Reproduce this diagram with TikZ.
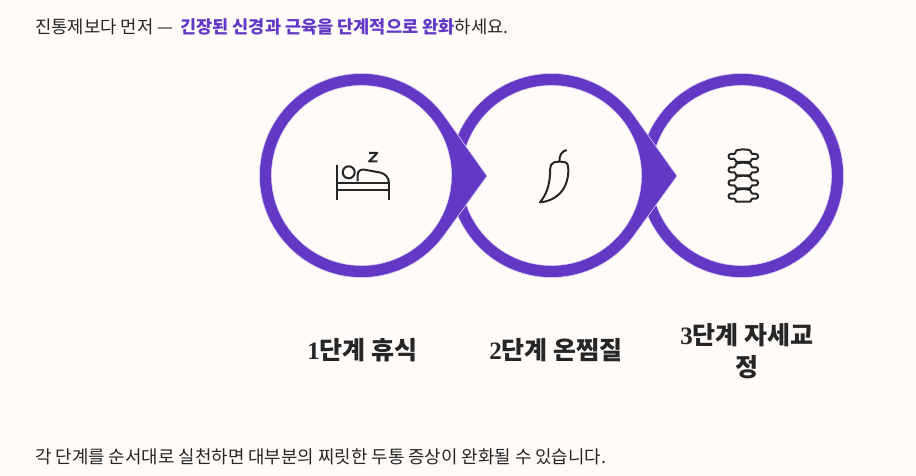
\documentclass[tikz,border=0pt]{standalone}
\usepackage{fontspec}
\setmainfont{Noto Sans CJK KR}
\newfontfamily\digfont{Liberation Serif}
\definecolor{bgc}{HTML}{FFFBF8}
\definecolor{ink}{HTML}{262626}
\definecolor{violet}{HTML}{6238C5}
\definecolor{violetedge}{HTML}{D9CEF2}
\newcommand{\labelnum}[1]{{\digfont\bfseries #1}}
\tikzset{
  x=1pt,y=1pt,
  ring/.style={fill=violet,draw=violetedge,line width=.6pt},
  hole/.style={fill=bgc,draw=violetedge,line width=.6pt},
  icon/.style={draw=ink,line width=2pt,line cap=butt,line join=round},
  bodytext/.style={anchor=west,inner sep=0pt,text=ink,font=\fontsize{17.75}{22}\selectfont},
  steplabel/.style={inner sep=0pt,text=ink,align=center,font=\fontsize{25}{32.5}\selectfont\bfseries},
  vertebra/.pic={
    \draw[icon,line width=2pt,fill=bgc] (-7,-6) -- (7,-6) .. controls (8,-5) and (8,-3) .. (9,-3)
      -- (12.5,-3) .. controls (15.5,-3) and (15.5,2) .. (12.5,2) -- (9,2)
      .. controls (8,2) and (8,4) .. (7,5.5) .. controls (3,7) and (-3,7) .. (-7,5.5)
      .. controls (-8,4) and (-8,2) .. (-9,2) -- (-12.5,2) .. controls (-15.5,2) and (-15.5,-3) .. (-12.5,-3)
      -- (-9,-3) .. controls (-8,-3) and (-8,-5) .. (-7,-6) -- cycle;
  }
}
\newcommand{\stepring}[1]{%
  \path[ring] (#1+102*0.8131,300.5+102*0.5821) arc[start angle=35.6,end angle=324.4,radius=102]
     -- (#1+125.5,300) -- cycle;
  \path[hole] (#1,300.5) circle[radius=90];
}
\begin{document}
\begin{tikzpicture}
\useasboundingbox[fill=bgc] (0,0) rectangle (916,476);
% third ring has no point
\path[ring] (741.5,300.5) circle[radius=102];
\path[hole] (741.5,300.5) circle[radius=90];
\stepring{551.5}
\stepring{361.5}
% icons, in image coordinates
\begin{scope}[shift={(0,476)},yscale=-1]
  % bed
  \draw[icon] (337.3,165) -- (337.3,200);
  \draw[icon] (389,183) -- (389,200);
  \draw[icon] (337.3,182.7) -- (389,182.7);
  \draw[icon] (337.3,190.5) -- (389,190.5);
  \draw[icon] (348.7,172.3) circle[radius=6];
  \draw[icon] (357.7,181.5) -- (357.7,175) .. controls (357.7,171.5) and (360,169.5) .. (363.5,169.5)
     -- (380,172.5) .. controls (385,173.5) and (389,177.5) .. (389,183);
  \draw[icon] (369,153) -- (377.3,153) -- (369,161.5) -- (377.3,161.5);
  % chilli
  \draw[icon] (566.7,150) .. controls (562,151) and (559.3,155) .. (559.3,161.7);
  \draw[icon] (551,165) .. controls (552,162.5) and (555,161.7) .. (559.3,161.7)
     .. controls (563.5,161.7) and (567,162) .. (567.7,165)
     .. controls (569.5,172) and (567.5,184) .. (562,191)
     .. controls (557,197.5) and (548,202) .. (540,202.3)
     .. controls (546,195) and (548.5,187) .. (549.5,180)
     .. controls (550.5,174) and (549.5,169) .. (551,165) -- cycle;
  % spine
  \pic at (743.3,195.7) {vertebra};
  \pic at (743.3,182.3) {vertebra};
  \pic at (743.3,169.3) {vertebra};
  \pic at (743.3,156) {vertebra};
\end{scope}
% texts
\node[bodytext] (intro) at (35,449.5) {진통제보다 먼저 —\hspace{3pt} \textcolor{violet}{\fontsize{17.55}{22}\selectfont\bfseries 긴장된 신경과 근육을 단계적으로 완화}하세요.};
\node[steplabel] (one) at (362.5,125.5) {\labelnum{1}단계 휴식};
\node[steplabel] (two) at (556,125.5) {\labelnum{2}단계 온찜질};
\node[steplabel] (three) at (747,125) {\labelnum{3}단계 자세교\\정};
\node[bodytext,font=\fontsize{17.87}{22}\selectfont] (outro) at (35,19.5) {각 단계를 순서대로 실천하면 대부분의 찌릿한 두통 증상이 완화될 수 있습니다.};
\end{tikzpicture}
\end{document}
